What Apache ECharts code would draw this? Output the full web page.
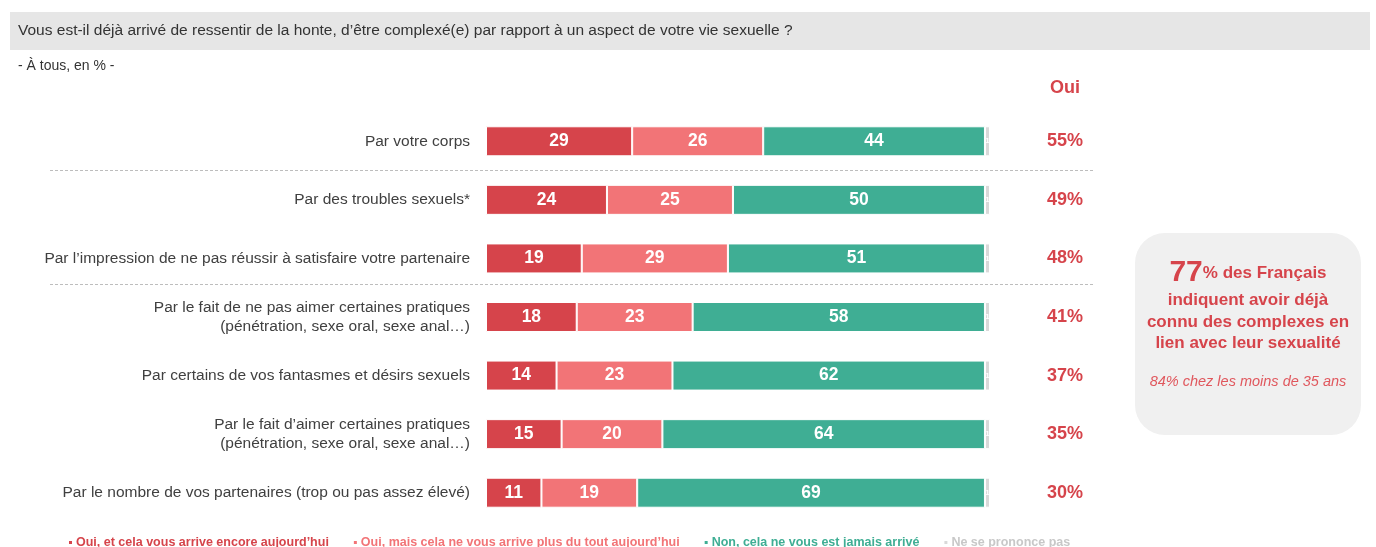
<!DOCTYPE html>
<html>
<head>
<meta charset="utf-8">
<script src="https://cdn.jsdelivr.net/npm/echarts@6/dist/echarts.min.js"></script>
<style>
    html, body { margin: 0; padding: 0; background: #fff; }
    #cn { width: 1376px; height: 547px; }
</style>
</head>
<body>
<div id="cn"></div>
<script>
'use strict';

const categories = [
    'Par votre corps',
    'Par des troubles sexuels*',
    'Par l\u2019impression de ne pas réussir à satisfaire votre partenaire',
    'Par le fait de ne pas aimer certaines pratiques\n(pénétration, sexe oral, sexe anal\u2026)',
    'Par certains de vos fantasmes et désirs sexuels',
    'Par le fait d\u2019aimer certaines pratiques\n(pénétration, sexe oral, sexe anal\u2026)',
    'Par le nombre de vos partenaires (trop ou pas assez élevé)'
];
const ouiEncore = [29, 24, 19, 18, 14, 15, 11];
const ouiPlus = [26, 25, 29, 23, 23, 20, 19];
const nonJamais = [44, 50, 51, 58, 62, 64, 69];
const nsp = [1, 1, 1, 1, 1, 1, 1];
const ouiTotal = ['55%', '49%', '48%', '41%', '37%', '35%', '30%'];

const seriesNames = [
    'Oui, et cela vous arrive encore aujourd\u2019hui',
    'Oui, mais cela ne vous arrive plus du tout aujourd\u2019hui',
    'Non, cela ne vous est jamais arrivé',
    'Ne se prononce pas'
];
const colors = ['#d6444b', '#f27477', '#3fae94', '#d9d9d9'];
const legendText = ['#d6444b', '#f27477', '#3fae94', '#c8c8c8'];

const font = 'Liberation Sans, Arial, sans-serif';
const red = '#d6444b';

const makeBar = (idx, data) => ({
    name: seriesNames[idx],
    type: 'bar',
    stack: 'total',
    barWidth: 30,
    data: data,
    itemStyle: {
        color: colors[idx],
        borderColor: '#fff',
        borderWidth: 1
    },
    label: {
        show: true,
        color: '#fff',
        fontFamily: font,
        fontWeight: 'bold',
        fontSize: idx === 3 ? 8 : 17.5
    },
    silent: true
});

const chart = echarts.init(document.getElementById('cn'));

const option = {
    animation: false,
    color: colors,
    grid: {
        left: 486,
        right: 386,
        top: 112,
        height: 410
    },
    xAxis: {
        type: 'value',
        min: 0,
        max: 100,
        show: false
    },
    yAxis: [{
            type: 'category',
            inverse: true,
            data: categories,
            axisLine: { show: false },
            axisTick: { show: false },
            axisLabel: {
                margin: 16,
                color: '#404040',
                fontFamily: font,
                fontSize: 15.5,
                lineHeight: 19,
                align: 'right'
            }
        },
        {
            type: 'category',
            inverse: true,
            position: 'right',
            data: ouiTotal,
            axisLine: { show: false },
            axisTick: { show: false },
            axisLabel: {
                margin: 75,
                align: 'center',
                color: red,
                fontFamily: font,
                fontWeight: 'bold',
                fontSize: 18
            }
        }
    ],
    legend: {
        left: 62,
        top: 531,
        icon: 'rect',
        itemWidth: 5,
        itemHeight: 5,
        itemGap: 23,
        selectedMode: false,
        textStyle: {
            fontFamily: font,
            fontWeight: 'bold',
            fontSize: 12.5,
            padding: [0, 0, 0, -2]
        },
        data: seriesNames.map((n, i) => ({
            name: n,
            textStyle: { color: legendText[i] }
        }))
    },
    graphic: [{
            type: 'rect',
            shape: { x: 10, y: 12, width: 1360, height: 38 },
            style: { fill: '#e6e6e6' },
            silent: true
        },
        {
            type: 'text',
            x: 18,
            y: 31,
            style: {
                text: 'Vous est-il déjà arrivé de ressentir de la honte, d\u2019être complexé(e) par rapport à un aspect de votre vie sexuelle ?',
                fill: '#333',
                font: '15.5px ' + font,
                verticalAlign: 'middle'
            }
        },
        {
            type: 'text',
            x: 18,
            y: 66,
            style: {
                text: '- À tous, en % -',
                fill: '#333',
                font: '14px ' + font,
                verticalAlign: 'middle'
            }
        },
        {
            type: 'text',
            x: 1065,
            y: 88,
            style: {
                text: 'Oui',
                fill: red,
                font: 'bold 18px ' + font,
                align: 'center',
                verticalAlign: 'middle'
            }
        },
        {
            type: 'line',
            shape: { x1: 50, y1: 170.5, x2: 1093, y2: 170.5 },
            style: { stroke: '#bdbdbd', lineWidth: 1, lineDash: [3, 2] },
            silent: true
        },
        {
            type: 'line',
            shape: { x1: 50, y1: 284.5, x2: 1093, y2: 284.5 },
            style: { stroke: '#bdbdbd', lineWidth: 1, lineDash: [3, 2] },
            silent: true
        },
        {
            type: 'rect',
            shape: { x: 1135, y: 233, width: 226, height: 202, r: 30 },
            style: { fill: '#f0f0f0' },
            silent: true
        },
        {
            type: 'text',
            x: 1248,
            y: 273,
            style: {
                text: '{big|77}{mid|% des Français}',
                align: 'center',
                verticalAlign: 'middle',
                rich: {
                    big: { fill: red, font: 'bold 30px ' + font },
                    mid: { fill: red, font: 'bold 17px ' + font }
                }
            }
        },
        {
            type: 'text',
            x: 1248,
            y: 322,
            style: {
                text: 'indiquent avoir déjà\nconnu des complexes en\nlien avec leur sexualité',
                fill: red,
                font: 'bold 17px ' + font,
                lineHeight: 21.5,
                align: 'center',
                verticalAlign: 'middle'
            }
        },
        {
            type: 'text',
            x: 1248,
            y: 382,
            style: {
                text: '84% chez les moins de 35 ans',
                fill: '#e0575d',
                font: 'italic 14.5px ' + font,
                align: 'center',
                verticalAlign: 'middle'
            }
        }
    ],
    series: [
        makeBar(0, ouiEncore),
        makeBar(1, ouiPlus),
        makeBar(2, nonJamais),
        makeBar(3, nsp)
    ]
};

chart.setOption(option);
</script>
</body>
</html>
